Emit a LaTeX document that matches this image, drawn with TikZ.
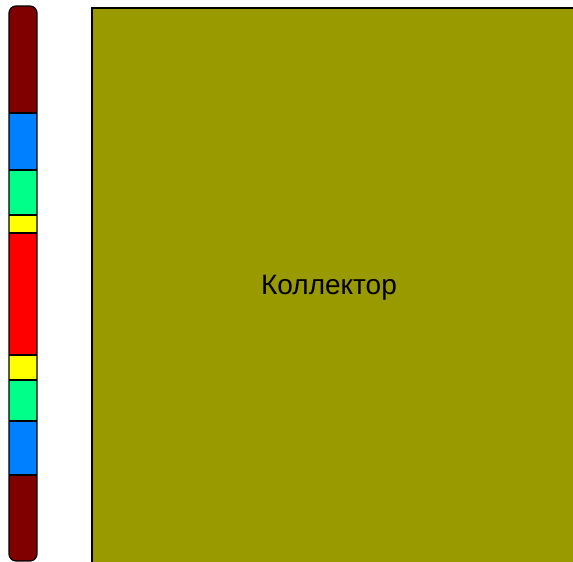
\documentclass[tikz,border=0pt]{standalone}
\usepackage{fontspec}
\setmainfont{Liberation Sans}
\definecolor{dred}{HTML}{800000}
\definecolor{cblue}{HTML}{0080FF}
\definecolor{cgreen}{HTML}{00FF88}
\definecolor{cyel}{HTML}{FFFF00}
\definecolor{cred}{HTML}{FF0000}
\definecolor{olive}{HTML}{999900}
\begin{document}
\begin{tikzpicture}[x=1pt,y=-1pt,
  seg/.style={draw=black,line width=1.2pt},
  lbl/.style={font=\fontsize{28}{30}\selectfont}]
\useasboundingbox (0,0) rectangle (573,562);
\fill[white] (0,0) rectangle (573,562);
% collector
\node[draw=black,line width=1.6pt,fill=olive,minimum width=500pt,minimum height=570pt,anchor=north west,inner sep=0pt] (coll) at (91,7) {};
\node[lbl] (txt) at (329,288) {Коллектор};
% bar
\begin{scope}
\clip[rounded corners=7pt] (9,6) rectangle (37,561);
\fill[dred] (9,6) rectangle (37,113);
\fill[cblue] (9,113) rectangle (37,170);
\fill[cgreen] (9,170) rectangle (37,215);
\fill[cyel] (9,215) rectangle (37,233);
\fill[cred] (9,233) rectangle (37,355);
\fill[cyel] (9,355) rectangle (37,380);
\fill[cgreen] (9,380) rectangle (37,421);
\fill[cblue] (9,421) rectangle (37,475);
\fill[dred] (9,475) rectangle (37,561);
\foreach \yy in {113,170,215,233,355,380,421,475}{\draw[seg] (9,\yy) -- (37,\yy);}
\end{scope}
\draw[seg,rounded corners=7pt] (9,6) rectangle (37,561);
\end{tikzpicture}
\end{document}
